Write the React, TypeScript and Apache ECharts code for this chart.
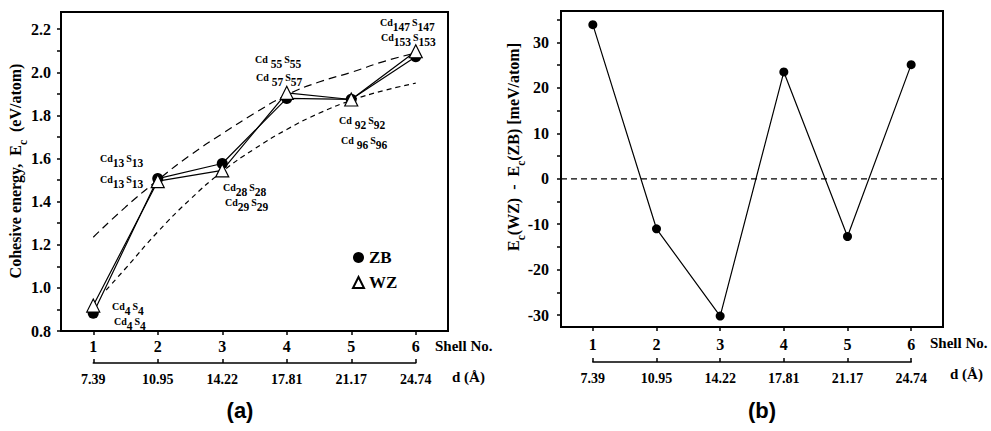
import React, { useEffect, useRef } from 'react';
import * as echarts from 'echarts';

const SERIF = "'Liberation Serif', 'Times New Roman', serif";
const SANS = "'Liberation Sans', Arial, sans-serif";

// ---- data ----
const shellNo = [1, 2, 3, 4, 5, 6];
const dLabels = ['7.39', '10.95', '14.22', '17.81', '21.17', '24.74'];
const zbEnergy = [0.882, 1.507, 1.577, 1.879, 1.875, 2.072];
const wzEnergy = [0.918, 1.495, 1.545, 1.905, 1.874, 2.098];
const upperFitX = [1, 1.5, 2, 2.5, 3, 3.5, 4, 4.5, 5, 5.5, 6];
const upperFitY = [1.235, 1.375, 1.5, 1.615, 1.715, 1.81, 1.895, 1.955, 2.0, 2.05, 2.09];
const lowerFitX = [1.2, 1.5, 2, 2.5, 3, 3.5, 4, 4.5, 5, 5.5, 6];
const lowerFitY = [0.99, 1.09, 1.26, 1.41, 1.54, 1.645, 1.735, 1.81, 1.87, 1.915, 1.95];
const energyDiff = [33.9, -11.0, -30.2, 23.5, -12.7, 25.1];
const zeroLineX = [0.5, 6.5];
const zeroLineY = [0, 0];

const yTicksA = [0.8, 1.0, 1.2, 1.4, 1.6, 1.8, 2.0, 2.2];
const yMinorA = [0.8, 0.9, 1.0, 1.1, 1.2, 1.3, 1.4, 1.5, 1.6, 1.7, 1.8, 1.9, 2.0, 2.1, 2.2];
const yTicksB = [-30, -20, -10, 0, 10, 20, 30];
const yMinorB = [-30, -25, -20, -15, -10, -5, 0, 5, 10, 15, 20, 25, 30, 35];

// cluster labels (Cd count, S count)
const clusterLabels = [
  { cd: '4', s: '4' },
  { cd: '4', s: '4' },
  { cd: '13', s: '13' },
  { cd: '13', s: '13' },
  { cd: '28', s: '28' },
  { cd: '29', s: '29' },
  { cd: ' 55', s: '55' },
  { cd: ' 57', s: '57' },
  { cd: ' 92', s: '92' },
  { cd: ' 96', s: '96' },
  { cd: '147', s: '147' },
  { cd: '153', s: '153' },
];
const clusterPos = [
  [112, 309], [114, 324], [100, 161], [100, 182], [223, 190], [225, 205],
  [255, 62], [256, 80], [339, 123], [341, 143], [380, 25], [381, 40],
];

const GA = { left: 61, top: 12, width: 387, height: 319 };
const GB = { left: 561, top: 11, width: 382, height: 316 };

export default function App() {
  const ref = useRef<HTMLDivElement>(null);
  useEffect(() => {
    document.body.style.margin = '0';
    const chart = echarts.init(ref.current!, null, { renderer: 'svg' });
    const black = '#000';
    const tickLabel = (size: number) => ({
      color: black, fontFamily: SERIF, fontWeight: 'bold' as const, fontSize: size,
    });
    const mainX = (gridIndex: number, margin: number) => ({
      gridIndex, type: 'value', min: 0.5, max: 6.5,
      axisLine: { onZero: false, lineStyle: { color: black, width: 2 } },
      axisTick: { customValues: shellNo, length: 4, lineStyle: { color: black, width: 1.5 } },
      axisLabel: { customValues: shellNo, margin, ...tickLabel(16) },
      splitLine: { show: false },
    });
    const dX = (gridIndex: number) => ({
      gridIndex, type: 'category', data: dLabels, boundaryGap: false,
      axisLine: { onZero: false, lineStyle: { color: black, width: 1.5 } },
      axisTick: { inside: true, length: 4, alignWithLabel: true, lineStyle: { color: black, width: 1.5 } },
      axisLabel: { margin: 9, interval: 0, ...tickLabel(14) },
    });
    const hiddenY = (gridIndex: number) => ({ gridIndex, type: 'value', show: false, min: 0, max: 1 });
    const subGrid = (g: any, top: number) => ({
      left: g.left + g.width / 12, width: (g.width * 10) / 12, top, height: 1,
      show: false,
    });
    const clusterRich = {
      c: { fontFamily: SERIF, fontWeight: 'bold', fontSize: 10, lineHeight: 8, verticalAlign: 'top', fill: black },
      n: { fontFamily: SERIF, fontWeight: 'bold', fontSize: 11.5, lineHeight: 15, verticalAlign: 'bottom', fill: black },
      sp: { fontFamily: SERIF, fontSize: 8, lineHeight: 8, verticalAlign: 'top' },
    };
    const nameRich = {
      m: { fontFamily: SERIF, fontWeight: 'bold', fontSize: 16, lineHeight: 17, verticalAlign: 'top', fill: black },
      s: { fontFamily: SERIF, fontWeight: 'bold', fontSize: 11.5, lineHeight: 22, verticalAlign: 'bottom', fill: black },
    };
    const option: any = {
      animation: false,
      backgroundColor: '#fff',
      grid: [
        { ...GA, show: true, borderColor: black, borderWidth: 2, backgroundColor: 'transparent' },
        subGrid(GA, 362),
        { ...GB, show: true, borderColor: black, borderWidth: 2, backgroundColor: 'transparent' },
        subGrid(GB, 361),
      ],
      xAxis: [mainX(0, 7), dX(1), mainX(2, 9), dX(3)],
      yAxis: [
        {
          gridIndex: 0, type: 'value', min: 0.8, max: 2.28,
          axisLine: { onZero: false, lineStyle: { color: black, width: 2 } },
          axisTick: { customValues: yMinorA, length: 4, lineStyle: { color: black, width: 1.5 } },
          axisLabel: { customValues: yTicksA, margin: 10, formatter: (v: number) => v.toFixed(1), ...tickLabel(16) },
          splitLine: { show: false },
        },
        hiddenY(1),
        {
          gridIndex: 2, type: 'value', min: -32.6, max: 36.9,
          axisLine: { onZero: false, lineStyle: { color: black, width: 2 } },
          axisTick: { customValues: yMinorB, length: 4, lineStyle: { color: black, width: 1.5 } },
          axisLabel: { customValues: yTicksB, margin: 12, formatter: (v: number) => String(v), ...tickLabel(16) },
          splitLine: { show: false },
        },
        hiddenY(3),
      ],
      legend: {
        left: 347, top: 244, orient: 'vertical', itemGap: 8, itemWidth: 11, itemHeight: 11,
        selectedMode: false,
        textStyle: { color: black, fontFamily: SERIF, fontWeight: 'bold', fontSize: 17 },
        data: [{ name: 'ZB', icon: 'circle' }, { name: 'WZ', icon: 'triangle' }],
      },
      series: [
        {
          name: 'upperFit', type: 'line', xAxisIndex: 0, yAxisIndex: 0, smooth: true, showSymbol: false,
          symbol: 'none', data: upperFitX.map((x, i) => [x, upperFitY[i]]),
          lineStyle: { color: black, width: 1.2, type: [8, 5] }, z: 2,
        },
        {
          name: 'lowerFit', type: 'line', xAxisIndex: 0, yAxisIndex: 0, smooth: true, showSymbol: false,
          symbol: 'none', data: lowerFitX.map((x, i) => [x, lowerFitY[i]]),
          lineStyle: { color: black, width: 1.2, type: [5, 4] }, z: 2,
        },
        {
          name: 'ZB', type: 'line', xAxisIndex: 0, yAxisIndex: 0,
          data: shellNo.map((x, i) => [x, zbEnergy[i]]),
          symbol: 'circle', symbolSize: 11,
          itemStyle: { color: black },
          lineStyle: { color: black, width: 1.2 }, z: 3,
        },
        {
          name: 'WZ', type: 'line', xAxisIndex: 0, yAxisIndex: 0,
          data: shellNo.map((x, i) => [x, wzEnergy[i]]),
          symbol: 'triangle', symbolSize: 13,
          itemStyle: { color: '#fff', borderColor: black, borderWidth: 1.2 },
          lineStyle: { color: black, width: 1.2 }, z: 4,
        },
        {
          name: 'zero', type: 'line', xAxisIndex: 2, yAxisIndex: 2, showSymbol: false, symbol: 'none',
          data: zeroLineX.map((x, i) => [x, zeroLineY[i]]),
          lineStyle: { color: black, width: 1.2, type: [6, 4] }, z: 2,
        },
        {
          name: 'diff', type: 'line', xAxisIndex: 2, yAxisIndex: 2,
          data: shellNo.map((x, i) => [x, energyDiff[i]]),
          symbol: 'circle', symbolSize: 9,
          itemStyle: { color: black },
          lineStyle: { color: black, width: 1.2 }, z: 3,
        },
      ],
      graphic: [
        ...clusterLabels.map((l, i) => ({
          type: 'text', x: clusterPos[i][0], y: clusterPos[i][1],
          style: {
            text: `{c|Cd}{n|${l.cd}}{sp| }{c|S}{n|${l.s}}`,
            rich: clusterRich, verticalAlign: 'middle', align: 'left',
          },
        })),
        {
          type: 'text', x: 18, y: 171, rotation: Math.PI / 2,
          style: {
            text: '{m|Cohesive energy,  E}{s|c}{m|  (eV/atom)}',
            align: 'center', verticalAlign: 'middle', rich: nameRich,
          },
        },
        {
          type: 'text', x: 516, y: 147, rotation: Math.PI / 2,
          style: {
            text: '{m|E}{s|c}{m|(WZ)  -  E}{s|c}{m|(ZB) [meV/atom]}',
            align: 'center', verticalAlign: 'middle', rich: nameRich,
          },
        },
        {
          type: 'text', x: 435, y: 346,
          style: { text: 'Shell No.', font: `bold 15px ${SERIF}`, fill: black, verticalAlign: 'middle' },
        },
        {
          type: 'text', x: 452, y: 377,
          style: { text: 'd (Å)', font: `bold 15px ${SERIF}`, fill: black, verticalAlign: 'middle' },
        },
        {
          type: 'text', x: 930, y: 343,
          style: { text: 'Shell No.', font: `bold 15px ${SERIF}`, fill: black, verticalAlign: 'middle' },
        },
        {
          type: 'text', x: 950, y: 374,
          style: { text: 'd (Å)', font: `bold 15px ${SERIF}`, fill: black, verticalAlign: 'middle' },
        },
        {
          type: 'text', x: 240, y: 410,
          style: { text: '(a)', font: `bold 22px ${SANS}`, fill: black, align: 'center', verticalAlign: 'middle' },
        },
        {
          type: 'text', x: 762, y: 410,
          style: { text: '(b)', font: `bold 22px ${SANS}`, fill: black, align: 'center', verticalAlign: 'middle' },
        },
      ],
    };
    chart.setOption(option);
    return () => chart.dispose();
  }, []);
  return <div ref={ref} style={{ width: 991, height: 431 }} />;
}
